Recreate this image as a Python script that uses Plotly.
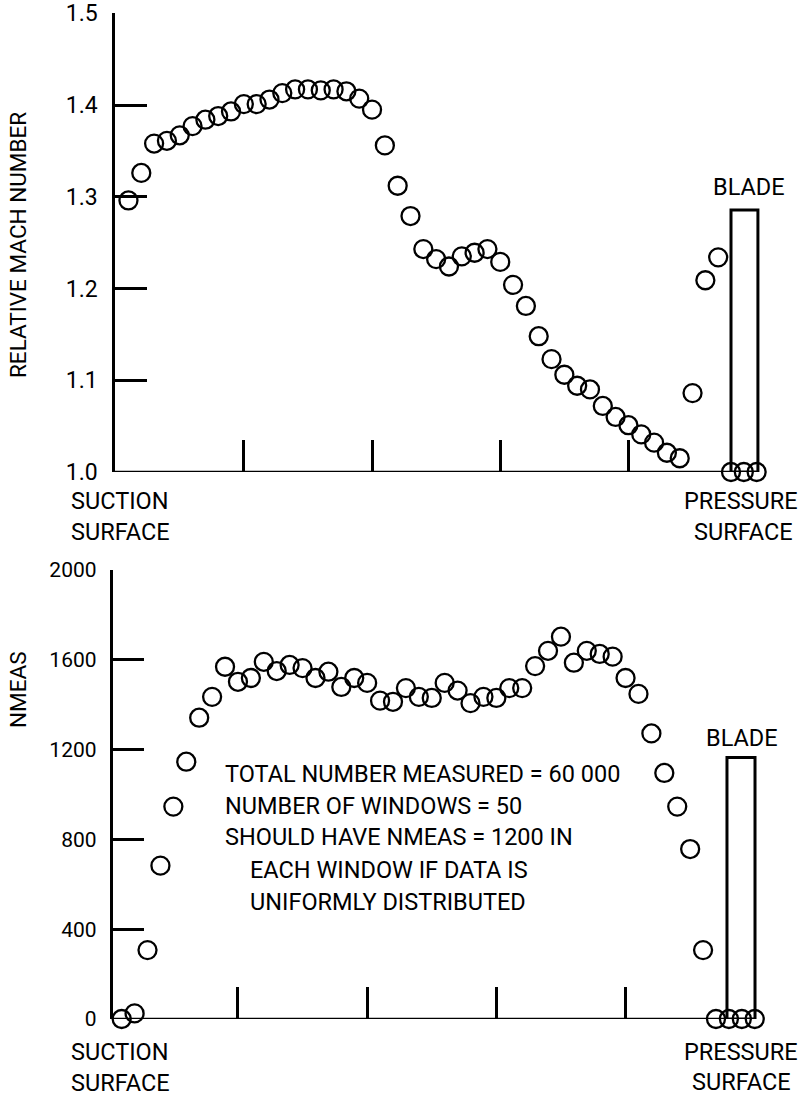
import plotly.graph_objects as go

# ---------------- data ----------------
windows = list(range(1, 51))

mach_number = [
    1.296, 1.326, 1.358, 1.361, 1.367, 1.377, 1.384, 1.388, 1.393, 1.401,
    1.401, 1.406, 1.413, 1.417, 1.417, 1.416, 1.417, 1.415, 1.407, 1.395,
    1.356, 1.312, 1.279, 1.243, 1.232, 1.224, 1.235, 1.239, 1.243, 1.229,
    1.204, 1.181, 1.148, 1.123, 1.106, 1.094, 1.090, 1.072, 1.060, 1.051,
    1.041, 1.032, 1.021, 1.015, 1.086, 1.209, 1.234, 1.000, 1.000, 1.000,
]

nmeas = [
    0, 25, 307, 683, 946, 1146, 1342, 1435, 1569, 1502,
    1519, 1591, 1550, 1577, 1563, 1519, 1547, 1479, 1519, 1497,
    1418, 1413, 1474, 1435, 1430, 1497, 1463, 1407, 1435, 1430,
    1474, 1474, 1572, 1640, 1703, 1587, 1640, 1626, 1614, 1519,
    1448, 1272, 1096, 946, 757, 307, 0, 0, 0, 0,
]

top_yticks = [1.0, 1.1, 1.2, 1.3, 1.4, 1.5]
top_yticklabels = ["1.0", "1.1", "1.2", "1.3", "1.4", "1.5"]
bot_yticks = [0, 400, 800, 1200, 1600, 2000]
bot_yticklabels = ["0", "400", "800", "1200", "1600", "2000"]
x_ticks = [10, 20, 30, 40]

note_lines = [
    "TOTAL NUMBER MEASURED = 60 000",
    "NUMBER OF WINDOWS = 50",
    "SHOULD HAVE NMEAS = 1200 IN",
    "EACH WINDOW IF DATA IS",
    "UNIFORMLY DISTRIBUTED",
]

# ---------------- layout helpers ----------------
W, H = 811, 1101
FONT = "Roboto, Liberation Sans, sans-serif"
TXT = 23.5


def xp(px):
    return px / W


def yp(py):
    return 1 - py / H


# top panel geometry (pixels)
T_LEFT, T_RIGHT, T_TOP, T_BOT = 115, 785, 13.3, 472
T_X0, T_SCALE = -0.05, 12.82
# bottom panel geometry
B_LEFT, B_RIGHT, B_TOP, B_BOT = 112.5, 785, 570, 1019
B_X0, B_SCALE = 0.29, 12.92

top_blade = (48.0, 50.1, 1.2855)
bot_blade = (47.85, 50.02, 1165)

fig = go.Figure()

marker = dict(symbol="circle-open", size=18, color="black", line=dict(width=2.3, color="black"))

fig.add_trace(go.Scatter(x=windows, y=mach_number, mode="markers", marker=marker,
                         xaxis="x", yaxis="y", cliponaxis=False, showlegend=False))
fig.add_trace(go.Scatter(x=windows, y=nmeas, mode="markers", marker=marker,
                         xaxis="x2", yaxis="y2", cliponaxis=False, showlegend=False))

axis_common = dict(showgrid=False, zeroline=False, ticks="inside", ticklen=32,
                   tickwidth=2.5, tickcolor="black", automargin=False)

fig.update_layout(
    width=W, height=H,
    margin=dict(l=0, r=0, t=0, b=0),
    paper_bgcolor="white", plot_bgcolor="white",
    font=dict(family=FONT, color="black", size=TXT),
    xaxis=dict(domain=[xp(T_LEFT), xp(T_RIGHT)],
               range=[T_X0, T_X0 + (T_RIGHT - T_LEFT) / T_SCALE],
               tickvals=x_ticks, showticklabels=False, showline=False,
               anchor="y", **axis_common),
    yaxis=dict(domain=[yp(T_BOT), yp(T_TOP)], range=[1.0, 1.5],
               tickvals=top_yticks, ticktext=top_yticklabels,
               showline=True, linewidth=2.5, linecolor="black",
               ticklabelstandoff=10, tickfont=dict(size=23, family=FONT),
               anchor="x", **axis_common),
    xaxis2=dict(domain=[xp(B_LEFT), xp(B_RIGHT)],
                range=[B_X0, B_X0 + (B_RIGHT - B_LEFT) / B_SCALE],
                tickvals=x_ticks, showticklabels=False, showline=False,
                anchor="y2", **axis_common),
    yaxis2=dict(domain=[yp(B_BOT), yp(B_TOP)], range=[0, 2000],
                tickvals=bot_yticks, ticktext=bot_yticklabels,
                showline=True, linewidth=2.5, linecolor="black",
                ticklabelstandoff=9, tickfont=dict(size=21, family=FONT),
                anchor="x2", **axis_common),
)

# x-axis base lines (stop at the blade)
fig.add_shape(type="line", xref="x", yref="y", x0=T_X0, x1=top_blade[0], y0=1.0, y1=1.0,
              line=dict(color="black", width=2.5))
fig.add_shape(type="line", xref="x2", yref="y2", x0=B_X0, x1=bot_blade[0], y0=0, y1=0,
              line=dict(color="black", width=2.5))

# blades
fig.add_shape(type="rect", xref="x", yref="y", x0=top_blade[0], x1=top_blade[1],
              y0=1.0, y1=top_blade[2], line=dict(color="black", width=3))
fig.add_shape(type="rect", xref="x2", yref="y2", x0=bot_blade[0], x1=bot_blade[1],
              y0=0, y1=bot_blade[2], line=dict(color="black", width=3))

ann = []


def text(px, py, s, xanchor="center", size=TXT, angle=0, align="center"):
    ann.append(dict(x=xp(px), y=yp(py), xref="paper", yref="paper", text=s,
                    showarrow=False, xanchor=xanchor, yanchor="middle",
                    textangle=angle, align=align,
                    font=dict(family=FONT, size=size, color="black")))


# axis titles
text(18, 245, "RELATIVE MACH NUMBER", angle=-90, size=22.5)
text(18, 690, "NMEAS", angle=-90, size=22.5)

# surface labels, top
text(69, 501, "SUCTION", xanchor="left")
text(69, 532, "SURFACE", xanchor="left")
text(741, 501, "PRESSURE")
text(743, 532, "SURFACE")
# surface labels, bottom
text(69, 1052, "SUCTION", xanchor="left")
text(69, 1083, "SURFACE", xanchor="left")
text(741, 1052, "PRESSURE")
text(741, 1082, "SURFACE")

# blade labels
text(749, 187, "BLADE")
text(742, 738, "BLADE")

# note block
note_pos = [(223, 774), (223, 806), (223, 837), (248, 870), (248, 902)]
for (px, py), s in zip(note_pos, note_lines):
    text(px, py, s, xanchor="left")

fig.update_layout(annotations=ann)

fig.write_html("out.html")
